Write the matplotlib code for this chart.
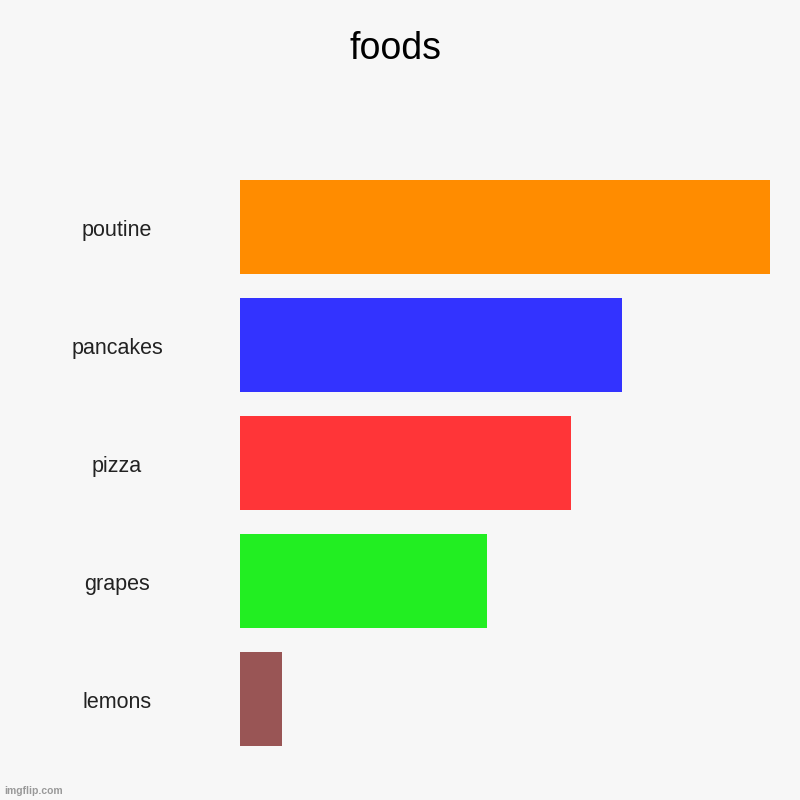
import matplotlib.pyplot as plt
import matplotlib.transforms as mtransforms

foods = ['poutine', 'pancakes', 'pizza', 'grapes', 'lemons']
amounts = [100, 72, 62.5, 46.6, 8]
colors = ['#ff8c00', '#3333ff', '#ff3538', '#22ee22', '#995555']

plt.rcParams['font.family'] = ['Liberation Sans', 'DejaVu Sans']

fig = plt.figure(figsize=(8, 8), dpi=100, facecolor='#f7f7f7')
ax = fig.add_axes([0.3, 0.0525, 0.6625, 0.7375])
ax.set_facecolor('#f7f7f7')

ypos = list(range(len(foods)))
ax.barh(ypos, amounts, height=0.8, color=colors)
ax.set_xlim(0, max(amounts))
ax.set_ylim(len(foods) - 0.5, -0.5)

for s in ax.spines.values():
    s.set_visible(False)
ax.set_xticks([])
ax.set_yticks([])

# category labels centred in the left margin
trans = mtransforms.blended_transform_factory(fig.transFigure, ax.transData)
for y, name in zip(ypos, foods):
    ax.text(117 / 800, y + 0.03, name, transform=trans, ha='center', va='center',
            fontsize=15.5, color='#222222')

fig.text(395 / 800, 1 - 49 / 800, 'foods', ha='center', va='center',
         fontsize=27, color='#000000')
fig.text(4 / 800, 1 - 791 / 800, 'imgflip.com', ha='left', va='center',
         fontsize=7.5, color='#999999', fontweight='bold')

fig.savefig('out.png', dpi=100, facecolor=fig.get_facecolor())
